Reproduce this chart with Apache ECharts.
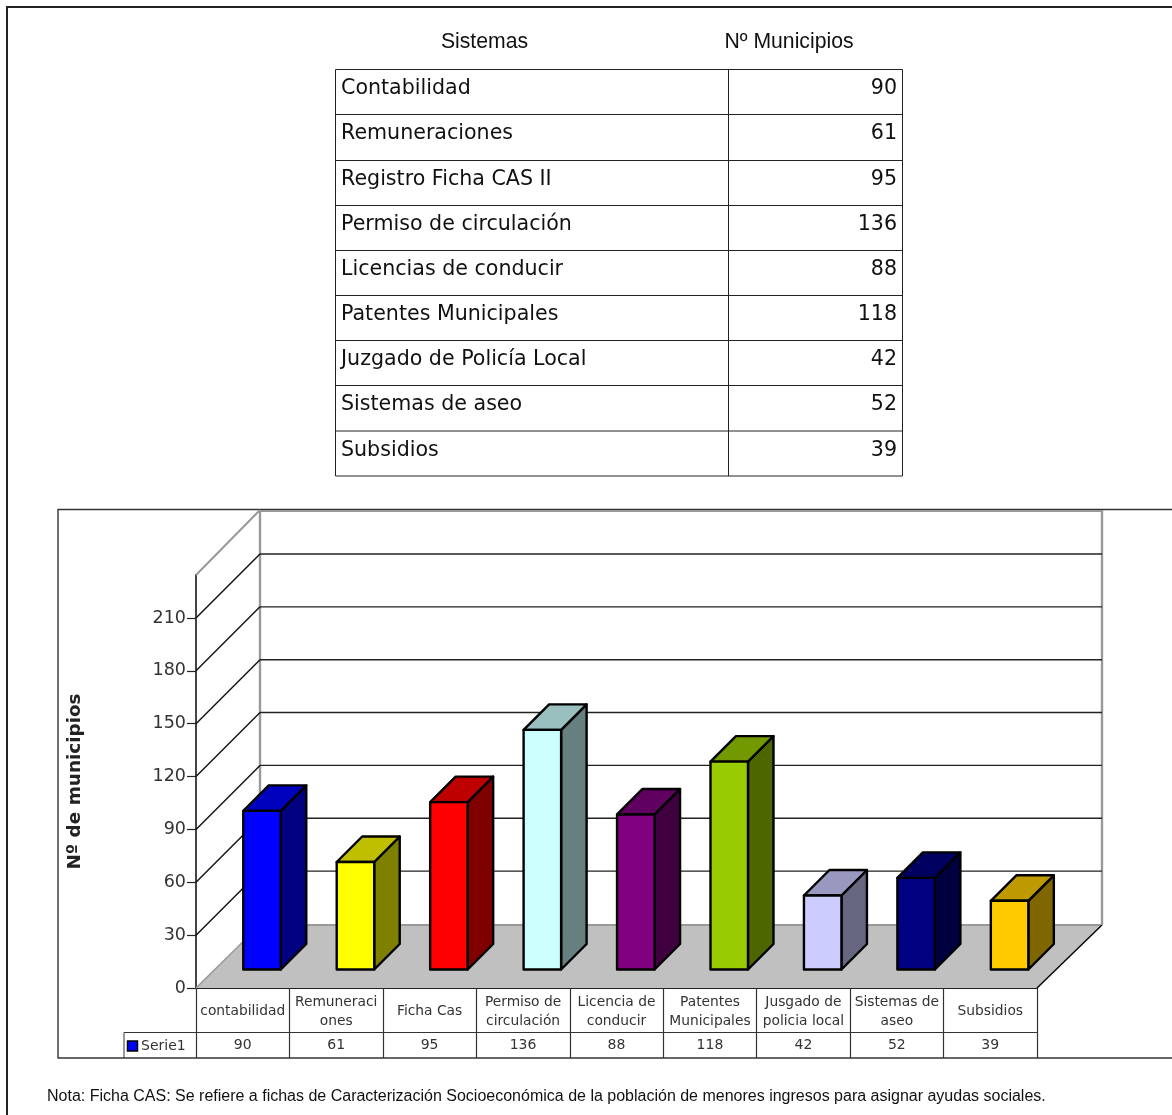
<!DOCTYPE html>
<html>
<head>
<meta charset="utf-8">
<style>html,body{margin:0;padding:0;background:#fff}#c{width:1172px;height:1115px}</style>
<script src="https://cdn.jsdelivr.net/npm/echarts@6/dist/echarts.min.js"></script>
</head>
<body>
<div id="c"></div>
<script>
// ---- data ----
const tableHeaders = ['Sistemas', 'Nº Municipios'];
const tableNames = ['Contabilidad','Remuneraciones','Registro Ficha CAS II','Permiso de circulación','Licencias de conducir','Patentes Municipales','Juzgado de Policía Local','Sistemas de aseo','Subsidios'];
const tableValues = [90,61,95,136,88,118,42,52,39];
const categories = ['contabilidad','Remuneraci\nones','Ficha Cas','Permiso de\ncirculación','Licencia de\nconducir','Patentes\nMunicipales','Jusgado de\npolicia local','Sistemas de\naseo','Subsidios'];
const seriesValues = [90,61,95,136,88,118,42,52,39];
const barColors = ['#0000ff','#ffff00','#ff0000','#ccffff','#800080','#99cc00','#ccccff','#000080','#ffcc00'];
const yTicks = [0,30,60,90,120,150,180,210];
const yMax = 234.4;
const yTitle = 'Nº de municipios';
const seriesName = 'Serie1';
const note = 'Nota: Ficha CAS: Se refiere a fichas de Caracterización Socioeconómica de la población de menores ingresos para asignar ayudas sociales.';

// ---- style ----
const WALL_D = 64, BAR_DX = 19.3, BAR_DY = 18.5, BAR_W = 37.5, BAR_D = 25.5;
const LINE = '#222', GRAY = '#999999', TXT = '#333', VFONT = '"DejaVu Sans"', AFONT = '"Liberation Sans"';

function shade(hex, k) {
  const n = parseInt(hex.slice(1), 16);
  const c = s => Math.round(((n >> s) & 255) * k);
  return 'rgb(' + c(16) + ',' + c(8) + ',' + c(0) + ')';
}
const hLine = (x1, x2, y, color, w) => ({type:'line', shape:{x1, y1:y, x2, y2:y}, style:{stroke:color||LINE, lineWidth:w||1}});
const vLine = (x, y1, y2, color, w) => ({type:'line', shape:{x1:x, y1, x2:x, y2}, style:{stroke:color||LINE, lineWidth:w||1}});

// top table + frames drawn as graphic elements
const TBL = {l:335.5, m:728.5, r:902.5};
const rowLines = [69.5,114.5,160.5,205.5,250.5,295.5,340.5,385.5,431,476];
const graphics = [];
graphics.push(hLine(6, 1172, 7, '#222', 2), vLine(7, 6, 1115, '#222', 2));
graphics.push({type:'text', x:484.5, y:42, style:{text:tableHeaders[0], font:'21.2px '+AFONT, fill:'#111', textAlign:'center', textVerticalAlign:'middle'}});
graphics.push({type:'text', x:789, y:42, style:{text:tableHeaders[1], font:'21.2px '+AFONT, fill:'#111', textAlign:'center', textVerticalAlign:'middle'}});
rowLines.forEach(y => graphics.push(hLine(TBL.l, TBL.r, y)));
[TBL.l, TBL.m, TBL.r].forEach(x => graphics.push(vLine(x, rowLines[0], rowLines[9])));
tableNames.forEach((name, i) => {
  const y = rowLines[i] + 19.5;
  graphics.push({type:'text', x:341, y, style:{text:name, font:'20.6px '+VFONT, fill:'#111', textAlign:'left', textVerticalAlign:'middle'}});
  graphics.push({type:'text', x:897, y, style:{text:String(tableValues[i]), font:'20.6px '+VFONT, fill:'#111', textAlign:'right', textVerticalAlign:'middle'}});
});
// chart frame
graphics.push(hLine(58, 1172, 509.5, '#333', 1.4), vLine(58, 509, 1058.5, '#333', 1.4), hLine(58, 1172, 1058, '#333', 1.4));
// legend cell
graphics.push(hLine(124, 196, 1032.5, '#333'), vLine(124, 1032.5, 1058, '#333'));
graphics.push({type:'rect', shape:{x:127.5, y:1041, width:10, height:10}, style:{fill:barColors[0], stroke:'#000', lineWidth:1.5}});
graphics.push({type:'text', x:141, y:1046.5, style:{text:seriesName, font:'14px '+VFONT, fill:TXT, textAlign:'left', textVerticalAlign:'middle'}});
// note
graphics.push({type:'text', x:47, y:1097, style:{text:note, font:'16px '+AFONT, fill:'#111', textAlign:'left', textVerticalAlign:'middle'}});

const option = {
  backgroundColor:'#fff',
  animation:false,
  graphic:{elements:graphics},
  grid:{left:196, top:575, width:841, height:413, containLabel:false},
  xAxis:[{
    type:'category', data:categories, position:'bottom',
    axisLine:{show:true, lineStyle:{color:LINE, width:1.2}},
    axisTick:{show:true, length:70, lineStyle:{color:'#333', width:1.2}},
    axisLabel:{interval:0, margin:23.5, lineHeight:19, fontSize:13.8, fontFamily:VFONT, color:TXT, verticalAlign:'middle', hideOverlap:false}
  },{
    type:'category', data:seriesValues.map(String), position:'bottom', offset:44.5,
    axisLine:{show:true, lineStyle:{color:'#333', width:1.2}},
    axisTick:{show:false},
    axisLabel:{interval:0, margin:6, fontSize:14, fontFamily:VFONT, color:TXT, verticalAlign:'top'}
  }],
  yAxis:{
    type:'value', min:0, max:yMax,
    name:yTitle, nameLocation:'middle', nameGap:112, nameRotate:90,
    nameTextStyle:{fontSize:18.4, fontWeight:'bold', fontFamily:VFONT, color:'#222'},
    axisLine:{show:true, lineStyle:{color:'#444', width:2}},
    axisTick:{show:true, length:9, customValues:yTicks, lineStyle:{color:'#222', width:1.2}},
    axisLabel:{customValues:yTicks, margin:10, fontSize:17.5, fontFamily:VFONT, color:TXT, padding:[6,0,0,0]},
    splitLine:{show:false}
  },
  series:[{
    // floor and wall outline
    type:'custom', z:1, clip:false, silent:true, data:[[0, yMax]],
    renderItem(params, api) {
      const s = params.coordSys, L = s.x, R = s.x + s.width, B = s.y + s.height, T = s.y, D = WALL_D;
      const bk = B - D + 1, tp = T - D - 1;
      return {type:'group', children:[
        {type:'polygon', shape:{points:[[L,B],[R,B],[R+D+1,bk],[L+D,bk]]}, style:{fill:'#c0c0c0', stroke:null}},
        {type:'line', shape:{x1:L+D,y1:bk,x2:R+D+1,y2:bk}, style:{stroke:GRAY, lineWidth:2}},
        {type:'line', shape:{x1:L,y1:B,x2:L+D,y2:bk}, style:{stroke:GRAY, lineWidth:1.5}},
        {type:'line', shape:{x1:R,y1:B,x2:R+D+1,y2:bk}, style:{stroke:'#000', lineWidth:1.4}},
        {type:'line', shape:{x1:L+D,y1:tp,x2:L+D,y2:bk}, style:{stroke:GRAY, lineWidth:2.4}},
        {type:'line', shape:{x1:R+D+1,y1:tp,x2:R+D+1,y2:bk}, style:{stroke:GRAY, lineWidth:2.4}},
        {type:'line', shape:{x1:L+D,y1:tp+1,x2:R+D+1,y2:tp+1}, style:{stroke:GRAY, lineWidth:2}},
        {type:'line', shape:{x1:L,y1:T,x2:L+D,y2:tp}, style:{stroke:GRAY, lineWidth:2}}
      ]};
    }
  },{
    // gridlines on the side and back walls
    type:'custom', z:2, clip:false, silent:true,
    data:yTicks.slice(1).map(v => [0, v]),
    renderItem(params, api) {
      const s = params.coordSys, L = s.x, R = s.x + s.width, y = api.coord([0, api.value(1)])[1], D = WALL_D;
      return {type:'group', children:[
        {type:'line', shape:{x1:L,y1:y,x2:L+D,y2:y-D}, style:{stroke:'#111', lineWidth:1.4}},
        {type:'line', shape:{x1:L+D,y1:y-D,x2:R+D+1,y2:y-D}, style:{stroke:'#222', lineWidth:1.4}}
      ]};
    }
  },{
    // 3D bars
    type:'custom', z:3, clip:false,
    data:seriesValues.map((v, i) => [i, v]),
    encode:{x:0, y:1},
    renderItem(params, api) {
      const i = api.value(0), top = api.coord([i, api.value(1)]), base = api.coord([i, 0]);
      const x0 = top[0] - BAR_W/2 + BAR_DX, x1 = x0 + BAR_W, yT = top[1] - BAR_DY, yB = base[1] - BAR_DY, d = BAR_D, c = barColors[i];
      const st = f => ({fill:f, stroke:'#000', lineWidth:2.4, lineJoin:'round'});
      return {type:'group', children:[
        {type:'polygon', shape:{points:[[x1,yT],[x1+d,yT-d],[x1+d,yB-d],[x1,yB]]}, style:st(shade(c,0.5))},
        {type:'polygon', shape:{points:[[x0,yT],[x0+d,yT-d],[x1+d,yT-d],[x1,yT]]}, style:st(shade(c,0.75))},
        {type:'rect', shape:{x:x0, y:yT, width:BAR_W, height:yB-yT}, style:st(c)}
      ]};
    }
  }]
};
echarts.init(document.getElementById('c'), null, {renderer:'canvas'}).setOption(option);
</script>
</body>
</html>
